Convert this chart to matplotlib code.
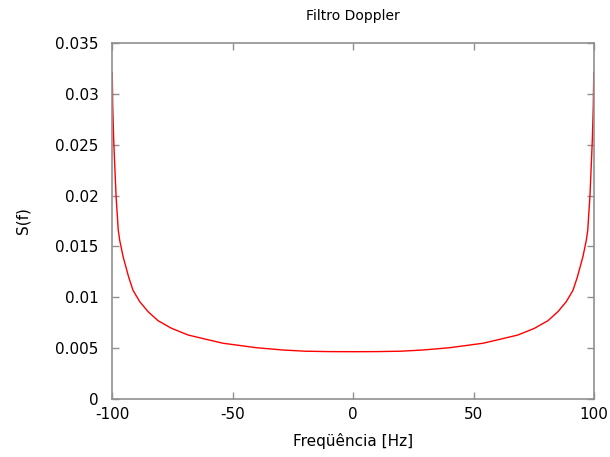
import matplotlib
matplotlib.use("Agg")
from matplotlib import pyplot

# values (curve is symmetric about 0 Hz)
freq_left = [-99.9, -99.7, -99.3, -98.9, -98.3, -97.4, -96.8, -95.4, -93.1,
             -91.3, -88.5, -85.0, -80.9, -75.3, -68.4, -61.5, -53.9,
             -40.0, -29.2, -20.0, -10.0]
spectrum_left = [0.0321, 0.0288, 0.0255, 0.0232, 0.0199, 0.0166, 0.0156,
                 0.0140, 0.0120, 0.0107, 0.00957, 0.00858, 0.0077, 0.00695,
                 0.00629, 0.0059, 0.00548, 0.00504, 0.00482, 0.00470,
                 0.00466]
spectrum_centre = 0.00465

freq_hz = freq_left + [0.0] + [-f for f in reversed(freq_left)]
spectrum = spectrum_left + [spectrum_centre] + list(reversed(spectrum_left))

x_ticks = [-100, -50, 0, 50, 100]
y_ticks = [0, 0.005, 0.01, 0.015, 0.02, 0.025, 0.03, 0.035]
y_tick_labels = ["0", "0.005", "0.01", "0.015", "0.02", "0.025", "0.03", "0.035"]

figure = pyplot.figure(figsize=(6.1, 4.57), dpi=100)
axes = figure.add_axes([0.1836, 0.1269, 0.7902, 0.7791])

axes.plot(freq_hz, spectrum, color="#ff0000", linewidth=1.0)

axes.set_xlim(-100, 100)
axes.set_ylim(0, 0.035)
axes.set_xticks(x_ticks)
axes.set_xticklabels([str(t) for t in x_ticks])
axes.set_yticks(y_ticks)
axes.set_yticklabels(y_tick_labels)

for spine in axes.spines.values():
    spine.set_color("#909090")
    spine.set_linewidth(1.2)
axes.tick_params(direction="in", length=5, width=1, color="#909090",
                 labelsize=11, top=True, right=True)
axes.tick_params(axis="y", pad=9.5)
axes.tick_params(axis="x", pad=6)

axes.set_title("Filtro Doppler", fontsize=10, pad=16.5)
axes.set_xlabel("Freqüência [Hz]", fontsize=11, labelpad=8)
axes.set_ylabel("S(f)", fontsize=11, labelpad=18)

figure.savefig("out.png", dpi=100)
